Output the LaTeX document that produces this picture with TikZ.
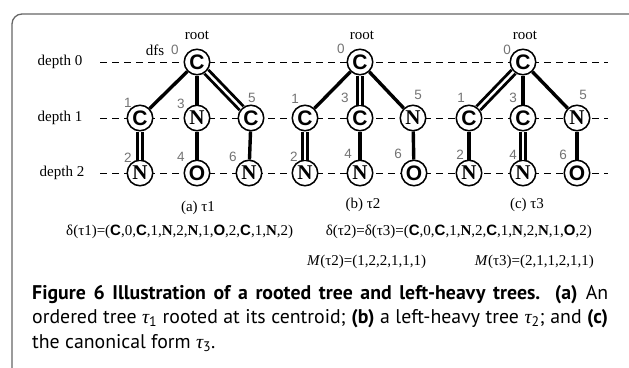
\documentclass[tikz,border=0pt]{standalone}
\usepackage{fontspec}
\setmainfont{Liberation Serif}
\newfontfamily\atomsans{Liberation Sans}
\newfontfamily\atomserif{Liberation Serif}
\newfontfamily\dfsfont{Liberation Sans}
\newfontfamily\capfont{PT Sans}
\newfontfamily\grk{Liberation Serif}

% atom letters
\newcommand\atC{{\atomsans\bfseries C}}
\newcommand\atN{{\atomserif\bfseries N}}
\newcommand\atO{{\atomsans\bfseries O}}
\newcommand\captau{{\grk\itshape τ}}

\tikzset{
  atom/.style={circle, draw, line width=1.5pt, fill=white, minimum size=25.5pt,
               inner sep=0pt, font=\fontsize{21}{21}\selectfont},
  bond/.style={line width=3.4pt},
  dbond/.style={double, line width=2.9pt, double distance=2.4pt},
  level/.style={dash pattern=on 6.5pt off 5.5pt, line width=0.8pt},
  dfsnum/.style={text=black!55, font=\dfsfont\fontsize{13.5}{13.5}\selectfont, inner sep=0pt},
  lbl/.style={font=\fontsize{15}{18}\selectfont, inner sep=0pt},
  frame/.style={line width=1.3pt, black!60, rounded corners=10pt}
}

\begin{document}
\begin{tikzpicture}[x=1pt, y=-1pt]
\useasboundingbox (0,0) rectangle (629,367);
\clip (0,0) rectangle (629,367);

% outer frame
\draw[frame] (660,14) -- (12,14) -- (12,400);

% depth levels
\foreach \lv/\yy in {0/62, 1/118, 2/173} {
  \coordinate (ls\lv) at (100,\yy);
  \coordinate (le\lv) at (608,\yy);
  \draw[level] (ls\lv) -- (le\lv);
}
\node[lbl] (dep0) at (60,62) {depth 0};
\node[lbl] (dep1) at (60,118) {depth 1};
\node[lbl] (dep2) at (62,173) {depth 2};

% tree (a)
\node[atom] (a0) at (197,62) {\atC};
\node[atom] (a1) at (140,118) {\atC};
\node[atom] (a3) at (197,118) {\atN};
\node[atom] (a5) at (251,118) {\atC};
\node[atom] (a2) at (140,173) {\atN};
\node[atom] (a4) at (197,173) {\atO};
\node[atom] (a6) at (249,173) {\atN};
\draw[bond] (a0) -- (a1);
\draw[bond] (a0) -- (a3);
\draw[dbond] (a0) -- (a5);
\draw[dbond] (a1) -- (a2);
\draw[bond] (a3) -- (a4);
\draw[bond] (a5) -- (a6);

% tree (b)
\node[atom] (b0) at (360,62) {\atC};
\node[atom] (b1) at (305,118) {\atC};
\node[atom] (b3) at (360,118) {\atC};
\node[atom] (b5) at (413,118) {\atN};
\node[atom] (b2) at (305,173) {\atN};
\node[atom] (b4) at (360,173) {\atN};
\node[atom] (b6) at (414,173) {\atO};
\draw[bond] (b0) -- (b1);
\draw[dbond] (b0) -- (b3);
\draw[bond] (b0) -- (b5);
\draw[dbond] (b1) -- (b2);
\draw[bond] (b3) -- (b4);
\draw[bond] (b5) -- (b6);

% tree (c)
\node[atom] (c0) at (523,62) {\atC};
\node[atom] (c1) at (469,118) {\atC};
\node[atom] (c3) at (523,118) {\atC};
\node[atom] (c5) at (577,118) {\atN};
\node[atom] (c2) at (469,173) {\atN};
\node[atom] (c4) at (523,173) {\atN};
\node[atom] (c6) at (577,173) {\atO};
\draw[dbond] (c0) -- (c1);
\draw[bond] (c0) -- (c3);
\draw[bond] (c0) -- (c5);
\draw[bond] (c1) -- (c2);
\draw[dbond] (c3) -- (c4);
\draw[bond] (c5) -- (c6);

% root markers
\node[lbl] (roota) at (197,35) {root};
\node[lbl] (rootb) at (362,35) {root};
\node[lbl] (rootc) at (525,35) {root};
\node[lbl] (dfs) at (155,50) {dfs};

% dfs order numbers
\node[dfsnum] (na0) at (175,50) {0};
\node[dfsnum] (na1) at (128,103) {1};
\node[dfsnum] (na3) at (181,104) {3};
\node[dfsnum] (na5) at (252,98) {5};
\node[dfsnum] (na2) at (128,158) {2};
\node[dfsnum] (na4) at (181,157) {4};
\node[dfsnum] (na6) at (233,157) {6};

\node[dfsnum] (nb0) at (341,49) {0};
\node[dfsnum] (nb1) at (295,99) {1};
\node[dfsnum] (nb3) at (345,98) {3};
\node[dfsnum] (nb5) at (418,95) {5};
\node[dfsnum] (nb2) at (294,157) {2};
\node[dfsnum] (nb4) at (348,154) {4};
\node[dfsnum] (nb6) at (398,154) {6};

\node[dfsnum] (nc0) at (507,50) {0};
\node[dfsnum] (nc1) at (461,98) {1};
\node[dfsnum] (nc3) at (513,98) {3};
\node[dfsnum] (nc5) at (583,95) {5};
\node[dfsnum] (nc2) at (460,155) {2};
\node[dfsnum] (nc4) at (513,155) {4};
\node[dfsnum] (nc6) at (563,155) {6};

% sub-figure labels
\node[lbl] (capa) at (198,208) {(a) τ1};
\node[lbl] (capb) at (363,205) {(b) τ2};
\node[lbl] (capc) at (527,205) {(c) τ3};

% dfs codes and multiplicity vectors
\node[lbl, anchor=west] (seqa) at (66,232)
  {δ(τ1)=(\atC,0,\atC,1,\atN,2,\atN,1,\atO,2,\atC,1,\atN,2)};
\node[lbl, anchor=east] (seqb) at (592,232)
  {δ(τ2)=δ(τ3)=(\atC,0,\atC,1,\atN,2,\atC,1,\atN,2,\atN,1,\atO,2)};
\node[lbl, anchor=west] (mulb) at (307,262) {\textit{M}(τ2)=(1,2,2,1,1,1)};
\node[lbl, anchor=east] (mulc) at (594,262) {\textit{M}(τ3)=(2,1,1,2,1,1)};

% figure caption
\node[anchor=north west, inner sep=0pt, text width=576pt, align=justify,
      font=\capfont\fontsize{19.8}{24.5}\selectfont] (caption) at (32,285)
  {\hyphenpenalty=10000\exhyphenpenalty=10000
   \textbf{Figure 6 Illustration of a rooted tree and left-heavy trees. (a)} An\linebreak
   ordered tree \captau\textsubscript{1} rooted at its centroid; \textbf{(b)} a left-heavy
   tree \captau\textsubscript{2}; and \textbf{(c)}\linebreak
   the canonical form \captau\textsubscript{3}.};
\end{tikzpicture}
\end{document}
